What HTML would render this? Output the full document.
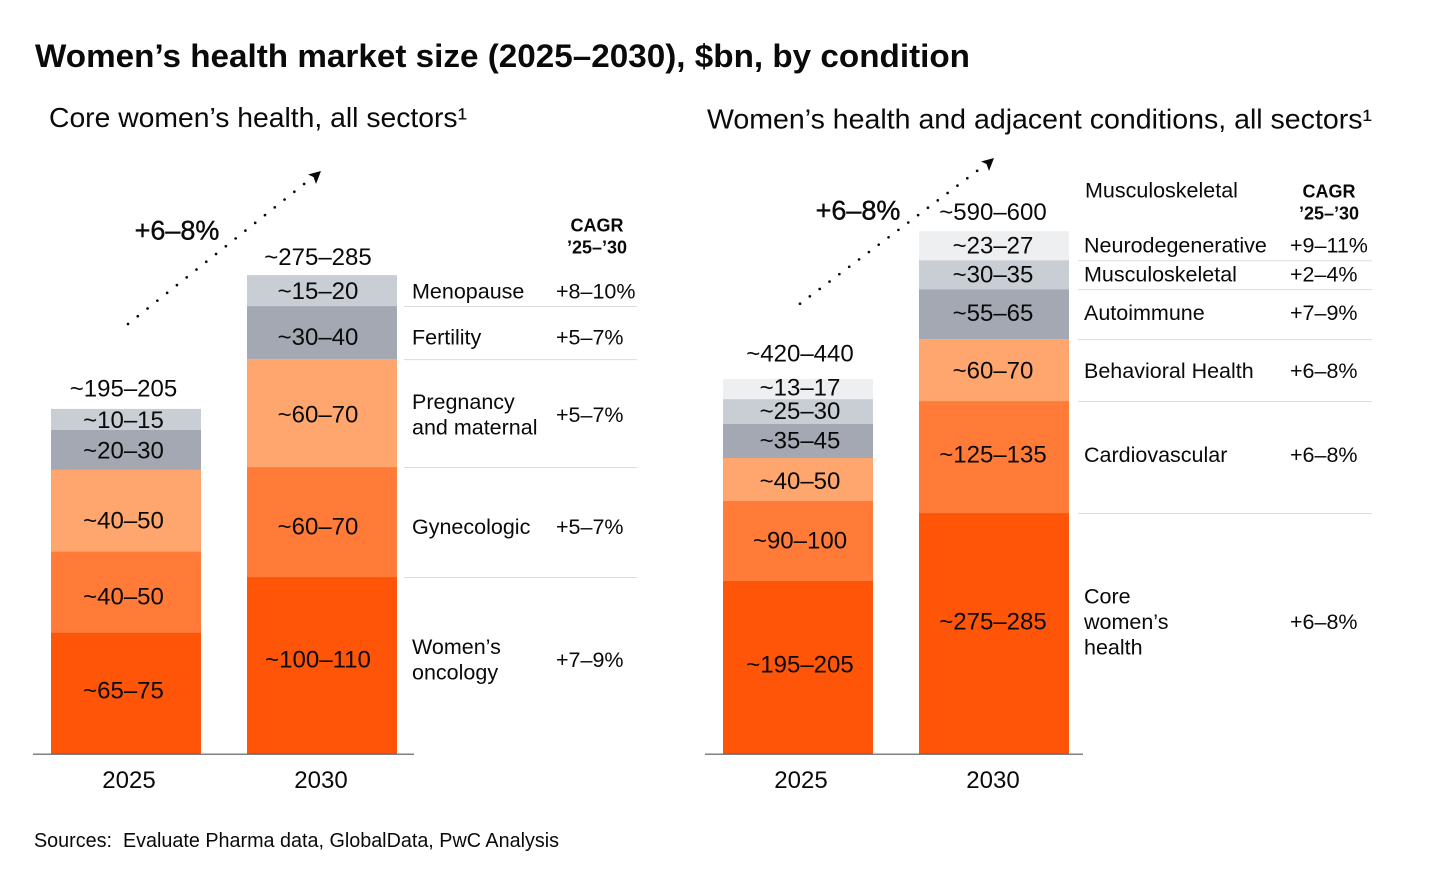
<!DOCTYPE html>
<html lang="en">
<head>
<meta charset="utf-8">
<title>Women's health market size</title>
<style>
html,body{margin:0;padding:0;background:#fff;}
svg{display:block;font-family:"Liberation Sans",sans-serif;fill:#0a0a0a;}
text{white-space:pre;}
</style>
</head>
<body>
<svg id="chart" xmlns="http://www.w3.org/2000/svg" width="1456" height="885" viewBox="0 0 1456 885">
  <rect x="0" y="0" width="1456" height="885" fill="#fff"/>
  <text x="35" y="67" font-size="32.5" font-weight="700" textLength="935" lengthAdjust="spacingAndGlyphs">Women’s health market size (2025–2030), $bn, by condition</text>
  <text x="49" y="127" font-size="27.5" textLength="418" lengthAdjust="spacingAndGlyphs">Core women’s health, all sectors¹</text>
  <text x="707" y="128.5" font-size="27.5" textLength="665" lengthAdjust="spacingAndGlyphs">Women’s health and adjacent conditions, all sectors¹</text>
  <text x="34" y="847" font-size="20" textLength="525" lengthAdjust="spacingAndGlyphs">Sources:  Evaluate Pharma data, GlobalData, PwC Analysis</text>
  <g id="plot"></g>
</svg>
<script>
// ---- data: left panel (core women's health), bottom to top ----
const leftYears = ['2025', '2030'];
const leftValues2025 = [71.6, 47.5, 48, 23.5, 12.4];
const leftValues2030 = [104.1, 64.7, 63.5, 31.2, 18.2];
const leftLabels2025 = ['~65–75', '~40–50', '~40–50', '~20–30', '~10–15'];
const leftLabels2030 = ['~100–110', '~60–70', '~60–70', '~30–40', '~15–20'];
const leftTotals = ['~195–205', '~275–285'];
const leftCategories = ['Women’s|oncology', 'Gynecologic', 'Pregnancy|and maternal', 'Fertility', 'Menopause'];
const leftCagr = ['+7–9%', '+5–7%', '+5–7%', '+5–7%', '+8–10%'];

// ---- data: right panel (women's health and adjacent), bottom to top ----
const rightYears = ['2025', '2030'];
const rightValues2025 = [201.2, 93, 50, 39.5, 29, 23.3];
const rightValues2030 = [280.2, 130.2, 72, 58.1, 33.7, 33.7];
const rightLabels2025 = ['~195–205', '~90–100', '~40–50', '~35–45', '~25–30', '~13–17'];
const rightLabels2030 = ['~275–285', '~125–135', '~60–70', '~55–65', '~30–35', '~23–27'];
const rightTotals = ['~420–440', '~590–600'];
const rightCategories = ['Core|women’s|health', 'Cardiovascular', 'Behavioral Health', 'Autoimmune', 'Musculoskeletal', 'Neurodegenerative'];
const rightCagr = ['+6–8%', '+6–8%', '+6–8%', '+7–9%', '+2–4%', '+9–11%'];

const growthLabel = '+6–8%';
const cagrHeader = ['CAGR', '’25–’30'];

// ---- styling ----
const palette = ['#fe5509', '#ff7b37', '#ffa66e', '#a3a8b3', '#c9ced5', '#eeeff0'];
const SVGNS = 'http://www.w3.org/2000/svg';
const plot = document.getElementById('plot');
const BASE_Y = 754;
const BAR_W = 150;

function mk(tag, attrs, parent) {
  const el = document.createElementNS(SVGNS, tag);
  for (const k in attrs) el.setAttribute(k, attrs[k]);
  (parent || plot).appendChild(el);
  return el;
}
function centerText(str, x, cy, size, anchor, parent, weight) {
  const t = mk('text', {x: x, y: cy + size * 0.36 - 1, 'font-size': size, 'text-anchor': anchor || 'middle'}, parent);
  if (weight) t.setAttribute('font-weight', weight);
  t.textContent = str;
  return t;
}

function drawPanel(cfg) {
  const yScale = v => v * cfg.pxPerUnit;
  const panel = mk('g', {});
  
  
  let rowBounds = [];

  cfg.bars.forEach((bar, bi) => {
    let y = BASE_Y;
    bar.values.forEach((v, i) => {
      const h = yScale(v);
      y -= h;
      const seg = mk('rect', {x: bar.x, y: y, width: BAR_W, height: h, fill: palette[cfg.colorIdx(i)]}, panel);
      
      
      const mid = y + h / 2 + bar.nudge[i];
      const lab = centerText(bar.labels[i], bar.x + BAR_W / 2 + bar.textDx, mid, 24, 'middle', panel);
      
      
      if (bi === 1) rowBounds.push({top: y, mid: mid});
    });
    const total = centerText(bar.total, bar.x + BAR_W / 2 + bar.textDx, y + bar.totalDy, 24, 'middle', panel);
    
    
    const yr = centerText(bar.year, bar.x + BAR_W / 2 + bar.yearDx, 780.5, 24, 'middle', panel);
    
    
  });

  const axis = mk('line', {x1: cfg.axisX1, x2: cfg.axisX2, y1: BASE_Y + 0.2, y2: BASE_Y + 0.2, stroke: '#55585c', 'stroke-width': 1.2}, panel);
  
  

  rowBounds.forEach((row, i) => {
    const lines = cfg.categories[i].split('|');
    lines.forEach((ln, li) => {
      const off = (li - (lines.length - 1) / 2) * 25.5;
      const t = centerText(ln, cfg.catX, row.mid + off, 21.5, 'start', panel);
      
      
    });
    const c = centerText(cfg.cagr[i], cfg.cagrX, row.mid, 21.5, 'start', panel);
    
    
    if (i < rowBounds.length - 1) {
      const sep = mk('line', {x1: cfg.sepX1, x2: cfg.sepX2, y1: row.top + 0.5, y2: row.top + 0.5, stroke: '#d8dce1', 'stroke-width': 1}, panel);
      
      
    }
  });

  cagrHeader.forEach((s, i) => {
    const t = centerText(s, cfg.cagrHeadX, cfg.cagrHeadY + 1 + i * 22, 18, 'middle', panel, 700);
    
    
  });

  const a = cfg.arrow;
  const dots = mk('line', {x1: a.x1, y1: a.y1, x2: a.x2, y2: a.y2, stroke: '#0a0a0a', 'stroke-width': 2.7, 'stroke-linecap': 'round', 'stroke-dasharray': '0 ' + a.gap}, panel);
  
  
  const head = mk('path', {d: 'M' + a.tx + ' ' + a.ty + 'l-13 3.5 l5.5 2.5 l2.5 7 z', fill: '#0a0a0a'}, panel);
  
  
  const g = centerText(growthLabel, a.labelX, a.labelY, 27, 'middle', panel);
  g.setAttribute('stroke', '#0a0a0a');
  g.setAttribute('stroke-width', '0.4');
  
  
}

drawPanel({
  name: 'core-womens-health',
  pxPerUnit: 1.7,
  colorIdx: i => i,
  bars: [
    {x: 51, year: leftYears[0], values: leftValues2025, labels: leftLabels2025, total: leftTotals[0], textDx: -2.5, yearDx: 3, totalDy: -20, nudge: [-2.5, 5, 10, 1, 1]},
    {x: 247, year: leftYears[1], values: leftValues2030, labels: leftLabels2030, total: leftTotals[1], textDx: -4, yearDx: -1, totalDy: -18, nudge: [-5.5, 5, 2, 5, 1]}
  ],
  axisX1: 33, axisX2: 414,
  categories: leftCategories, cagr: leftCagr,
  catX: 412, cagrX: 556, sepX1: 404, sepX2: 637,
  cagrHeadX: 597, cagrHeadY: 225,
  arrow: {x1: 128, y1: 324, x2: 306, y2: 182.5, gap: 12.5, tx: 321, ty: 171, labelX: 177, labelY: 231}
});

drawPanel({
  name: 'adjacent-conditions',
  pxPerUnit: 0.86,
  colorIdx: i => i,
  bars: [
    {x: 723, year: rightYears[0], values: rightValues2025, labels: rightLabels2025, total: rightTotals[0], textDx: 2, yearDx: 3, totalDy: -25, nudge: [-2.5, 0, 2, 0, 0, -1]},
    {x: 919, year: rightYears[1], values: rightValues2030, labels: rightLabels2030, total: rightTotals[1], textDx: -1, yearDx: -1, totalDy: -19, nudge: [-11.5, -2, 1, -1, 0, 0]}
  ],
  axisX1: 705, axisX2: 1083,
  categories: rightCategories, cagr: rightCagr,
  catX: 1084, cagrX: 1290, sepX1: 1078, sepX2: 1372,
  cagrHeadX: 1329, cagrHeadY: 191,
  arrow: {x1: 800, y1: 303.7, x2: 979, y2: 169.5, gap: 12.3, tx: 994, ty: 158, labelX: 858, labelY: 211}
});

const extra = centerText('Musculoskeletal', 1085, 191, 21.5, 'start');


</script>
</body>
</html>
